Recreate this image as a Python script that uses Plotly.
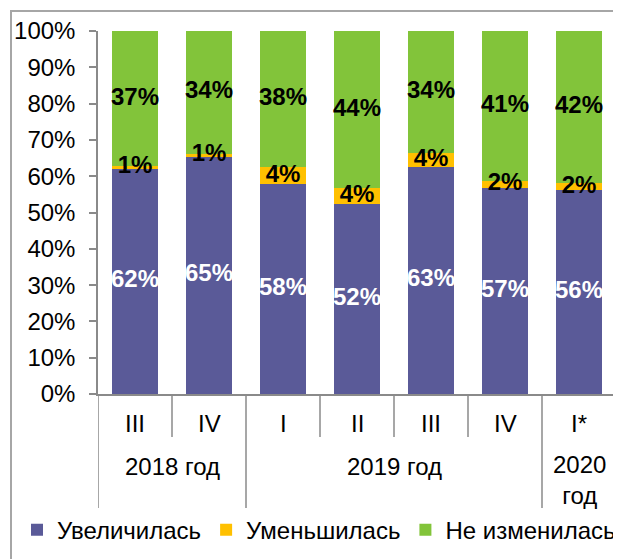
import plotly.graph_objects as go

quarters = ["III", "IV", "I", "II", "III", "IV", "I*"]
years = ["2018 год", "2019 год", "2020<br>год"]
year_spans = [(0, 1), (2, 5), (6, 6)]

increased = [62.0, 65.4, 57.9, 52.3, 62.6, 56.8, 56.3]
decreased = [0.8, 0.8, 4.5, 4.4, 3.8, 1.9, 1.7]
unchanged = [37.2, 33.8, 37.6, 43.3, 33.6, 41.3, 42.0]

lbl_increased = ["62%", "65%", "58%", "52%", "63%", "57%", "56%"]
lbl_decreased = ["1%", "1%", "4%", "4%", "4%", "2%", "2%"]
lbl_unchanged = ["37%", "34%", "38%", "44%", "34%", "41%", "42%"]

names = ["Увеличилась", "Уменьшилась", "Не изменилась"]
colors = ["#5A5A98", "#FFC000", "#82C43A"]
text_colors = ["white", "black", "black"]

FONT = "Liberation Sans, Arial, sans-serif"
FS = 24
x = list(range(len(quarters)))

fig = go.Figure()
series = [increased, decreased, unchanged]
labels = [lbl_increased, lbl_decreased, lbl_unchanged]
for vals, name, col in zip(series, names, colors):
    fig.add_trace(go.Bar(
        x=x, y=vals, name=name,
        marker=dict(color=col, line=dict(width=0)),
        hoverinfo="skip",
    ))

# value labels drawn above all bars, centred in each stacked segment
base = [0.0] * len(x)
for vals, lbls, tcol in zip(series, labels, text_colors):
    mids = [b + v / 2 for b, v in zip(base, vals)]
    fig.add_trace(go.Scatter(
        x=x, y=mids, mode="text", text=lbls, texttemplate="<b>%{text}</b>",
        textposition="middle center", cliponaxis=False, showlegend=False,
        textfont=dict(family=FONT, size=FS, color=tcol), hoverinfo="skip",
    ))
    base = [b + v for b, v in zip(base, vals)]

# the page body adds an 8px offset; compensate so the chart sits like the reference
OFF = 8
AX = "#8A8A8A"
fig.update_layout(
    barmode="stack", bargap=0.38,
    width=621 - OFF, height=559 - OFF,
    margin=dict(l=98 - OFF, r=5, t=31 - OFF, b=165),
    paper_bgcolor="white", plot_bgcolor="white",
    font=dict(family=FONT, size=FS, color="black"),
    showlegend=True,
    legend=dict(orientation="h", x=-0.145, xanchor="left", y=-0.375, yanchor="middle",
                font=dict(size=FS, family=FONT), traceorder="normal",
                itemclick=False, tracegroupgap=0),
    xaxis=dict(range=[-0.5, len(quarters) - 0.5], showticklabels=False, ticks="",
               showline=True, linecolor=AX, linewidth=1.5, showgrid=False, zeroline=False,
               fixedrange=True),
    yaxis=dict(range=[0, 100], dtick=10, ticksuffix="%", ticks="outside", ticklen=7,
               tickcolor=AX, tickwidth=1.5, showline=True, linecolor=AX, linewidth=1.5,
               showgrid=False, zeroline=False, ticklabelstandoff=9,
               tickfont=dict(size=FS, family=FONT)),
)

plot_h = 363.0
plot_w = 518.0
def py(pix_below_axis):
    return -pix_below_axis / plot_h

# quarter labels
for i, q in enumerate(quarters):
    fig.add_annotation(x=i, y=py(29), xref="x", yref="paper", text=q, showarrow=False,
                       yanchor="middle", font=dict(size=FS, family=FONT))

# quarter dividers (short) and year dividers (long)
year_bounds = set()
for a, b in year_spans:
    year_bounds.add(a - 0.5)
    year_bounds.add(b + 0.5)
for i in range(len(quarters) + 1):
    bx = i - 0.5
    depth = 114 if bx in year_bounds else 43
    fig.add_shape(type="line", xref="x", yref="paper", x0=bx, x1=bx, y0=0, y1=py(depth),
                  line=dict(color=AX, width=1.5))

# year labels
for (a, b), ylab in zip(year_spans, years):
    two = "<br>" in ylab
    fig.add_annotation(x=(a + b) / 2, y=py(86 if two else 72), xref="x", yref="paper",
                       text=ylab, showarrow=False, yanchor="middle",
                       font=dict(size=FS, family=FONT))

# outer chart border
fig.add_shape(type="rect", xref="paper", yref="paper",
              x0=(11 - 98) / plot_w, x1=1.3, y0=-0.7, y1=(394 - 11) / plot_h,
              line=dict(color="#A6A6A6", width=2), layer="below")

fig.write_html("out.html")
